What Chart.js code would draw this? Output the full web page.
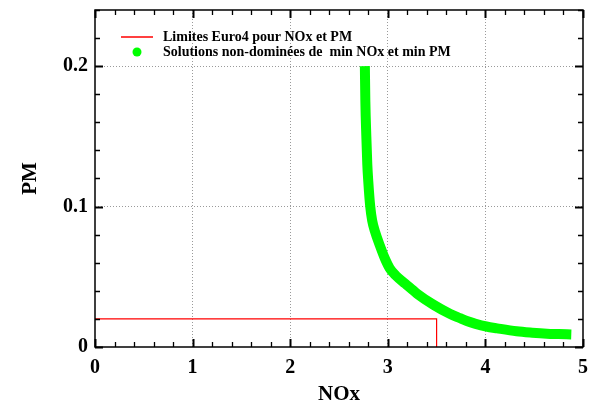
<!DOCTYPE html>
<html>
<head>
<meta charset="utf-8">
<script src="https://cdn.jsdelivr.net/npm/chart.js@4"></script>
<style>
  body { margin: 0; background: #fff; }
  #wrap { width: 593px; height: 409px; position: relative; }
</style>
</head>
<body>
<div id="wrap"><canvas id="paretoChart"></canvas></div>
<script>
// Limite Euro4 (NOx, PM)
const euroNox = [0, 3.5, 3.5];
const euroPm = [0.02, 0.02, 0];

// front de Pareto
const paretoNox = [2.765, 2.77, 2.78, 2.79, 2.80, 2.82, 2.84, 2.87, 2.92, 2.97, 3.02, 3.08, 3.18, 3.30, 3.47, 3.64, 3.74, 3.81, 3.90, 4.01, 4.12, 4.32, 4.48, 4.63, 4.75, 4.88];
const paretoPm = [0.200, 0.175, 0.150, 0.130, 0.118, 0.100, 0.090, 0.082, 0.072, 0.063, 0.056, 0.051, 0.045, 0.038, 0.030, 0.0235, 0.0205, 0.0185, 0.0165, 0.0146, 0.0133, 0.0112, 0.0102, 0.0095, 0.0092, 0.0089];

const xMajor = [0, 1, 2, 3, 4, 5];
const yMajor = [0, 0.1, 0.2];

const labels = ['Limites Euro4 pour NOx et PM', 'Solutions non-dominées de  min NOx et min PM'];

const serif = "'Liberation Serif', 'Times New Roman', serif";

function toPoints(xs, ys) {
    return xs.map((x, i) => ({ x: x, y: ys[i] }));
}

// cadre + graduations vers l'intérieur + légende
const framePlugin = {
    id: 'frame',
    afterDraw(chart) {
        const ctx = chart.ctx;
        const a = chart.chartArea;
        const xs = chart.scales.x;
        const ys = chart.scales.y;
        ctx.save();
        ctx.strokeStyle = '#000';

        for (let v = 0; v <= 5.0001; v += 0.2) {
            const major = Math.abs(v - Math.round(v)) < 1e-6;
            const px = Math.round(xs.getPixelForValue(v)) + 0.5;
            const len = major ? 8 : 5;
            ctx.lineWidth = major ? 2 : 1.3;
            ctx.beginPath();
            ctx.moveTo(px, a.bottom); ctx.lineTo(px, a.bottom - len);
            ctx.moveTo(px, a.top); ctx.lineTo(px, a.top + len);
            ctx.stroke();
        }
        for (let v = 0; v <= 0.24001; v += 0.02) {
            const major = Math.abs(v * 10 - Math.round(v * 10)) < 1e-6;
            const py = Math.round(ys.getPixelForValue(v)) + 0.5;
            const len = major ? 8 : 5;
            ctx.lineWidth = major ? 2 : 1.3;
            ctx.beginPath();
            ctx.moveTo(a.left, py); ctx.lineTo(a.left + len, py);
            ctx.moveTo(a.right, py); ctx.lineTo(a.right - len, py);
            ctx.stroke();
        }

        ctx.lineWidth = 1.5;
        ctx.strokeRect(a.left, a.top, a.right - a.left, a.bottom - a.top);

        // légende
        const ds = chart.data.datasets;
        ctx.font = 'bold 14px ' + serif;
        ctx.textBaseline = 'middle';
        ctx.fillStyle = '#000';
        ctx.strokeStyle = ds[0].borderColor;
        ctx.lineWidth = 1.5;
        ctx.beginPath();
        ctx.moveTo(121, 37); ctx.lineTo(153, 37);
        ctx.stroke();
        ctx.fillText(ds[0].label, 163, 37);

        ctx.fillStyle = ds[1].borderColor;
        ctx.beginPath();
        ctx.arc(137, 52, 4.5, 0, Math.PI * 2);
        ctx.fill();
        ctx.fillStyle = '#000';
        ctx.fillText(ds[1].label, 163, 52);
        ctx.restore();
    }
};

const gridColor = (edgeValues) => (c) => {
    const v = c.tick ? c.tick.value : null;
    return edgeValues.some(e => Math.abs(e - v) < 1e-9) ? 'rgba(0,0,0,0)' : '#9a9a9a';
};

new Chart(document.getElementById('paretoChart'), {
    type: 'scatter',
    data: {
        datasets: [
            {
                label: labels[0],
                data: toPoints(euroNox, euroPm),
                showLine: true,
                borderColor: '#ff0000',
                borderWidth: 1.2,
                pointRadius: 0,
                tension: 0
            },
            {
                label: labels[1],
                data: toPoints(paretoNox, paretoPm),
                showLine: true,
                borderColor: '#00ff00',
                backgroundColor: '#00ff00',
                borderWidth: 10,
                borderCapStyle: 'butt',
                borderJoinStyle: 'round',
                pointRadius: 0,
                cubicInterpolationMode: 'monotone'
            }
        ]
    },
    options: {
        responsive: true,
        maintainAspectRatio: false,
        animation: false,
        layout: { padding: { top: 10, right: 10, left: 0, bottom: 0 } },
        plugins: {
            legend: { display: false },
            tooltip: { enabled: false }
        },
        scales: {
            x: {
                type: 'linear',
                min: 0,
                max: 5,
                afterBuildTicks: (s) => { s.ticks = xMajor.map(v => ({ value: v })); },
                afterFit: (s) => {
                    s.height = 62;
                    s.paddingLeft = 0; s.paddingRight = 0;
                },
                grid: { color: gridColor([0, 5]), lineWidth: 1, drawTicks: false },
                border: { display: false, dash: [1, 2] },
                ticks: {
                    padding: 9,
                    color: '#000',
                    font: { family: serif, size: 20, weight: 'bold' },
                    maxRotation: 0
                },
                title: {
                    display: true,
                    text: 'NOx',
                    color: '#000',
                    font: { family: serif, size: 21, weight: 'bold' },
                    padding: { top: 0, bottom: 2 }
                }
            },
            y: {
                type: 'linear',
                min: 0,
                max: 0.24,
                afterBuildTicks: (s) => { s.ticks = yMajor.map(v => ({ value: v })); },
                afterFit: (s) => {
                    s.width = 95;
                    s.paddingTop = 0; s.paddingBottom = 0;
                },
                grid: { color: gridColor([0]), lineWidth: 1, drawTicks: false },
                border: { display: false, dash: [1, 2] },
                ticks: {
                    padding: 7,
                    color: '#000',
                    font: { family: serif, size: 20, weight: 'bold' },
                    callback: (v) => String(Math.round(v * 10) / 10)
                },
                title: {
                    display: true,
                    text: 'PM',
                    color: '#000',
                    font: { family: serif, size: 21, weight: 'bold' },
                    padding: { top: 18, bottom: 0 }
                }
            }
        }
    },
    plugins: [framePlugin]
});
</script>
</body>
</html>
